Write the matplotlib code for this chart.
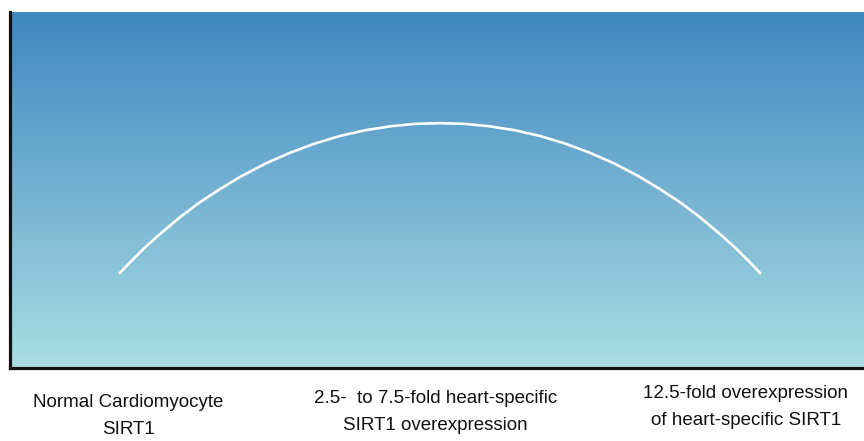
import numpy as np
import matplotlib
matplotlib.use("Agg")
import matplotlib.pyplot as plt
from matplotlib.colors import LinearSegmentedColormap

# Data (x: category scale 0..2, y: relative response 0..1)
left_x = [0.000, 0.034, 0.081, 0.128, 0.190, 0.252, 0.315, 0.377, 0.455, 0.533,
          0.611, 0.688, 0.766, 0.844, 0.922]
left_y = [0.265, 0.297, 0.339, 0.377, 0.424, 0.466, 0.503, 0.537, 0.574, 0.605,
          0.631, 0.652, 0.668, 0.679, 0.686]
peak_x, peak_y = 1.0, 0.688
right_x = [1.078, 1.156, 1.234, 1.312, 1.389, 1.467, 1.545, 1.623, 1.685, 1.748,
           1.810, 1.872, 1.919, 1.966, 2.000]
right_y = [0.686, 0.679, 0.668, 0.652, 0.631, 0.605, 0.574, 0.537, 0.503, 0.466,
           0.424, 0.377, 0.339, 0.297, 0.265]
categories = ["Normal Cardiomyocyte\nSIRT1",
              "2.5-  to 7.5-fold heart-specific\nSIRT1 overexpression",
              "12.5-fold overexpression\nof heart-specific SIRT1"]
label_x = [0.03, 0.985, 1.953]
label_top = [-0.072, -0.06, -0.047]

curve_x = left_x + [peak_x] + right_x
curve_y = left_y + [peak_y] + right_y

fig = plt.figure(figsize=(8.64, 4.41), dpi=100)
ax = fig.add_axes([9.5/864, (441-368.3)/441, (864-9.5)/864, (368.3-12)/441])

xmin, xmax = -0.341, 2.321
ax.set_xlim(xmin, xmax)
ax.set_ylim(0, 1)

cmap = LinearSegmentedColormap.from_list("bg", ["#aadde3", "#3e87c1"])
grad = np.linspace(0, 1, 256).reshape(-1, 1)
ax.imshow(grad, cmap=cmap, aspect="auto", extent=[xmin, xmax, 0, 1],
          origin="lower", zorder=0)

ax.plot(curve_x, curve_y, color="white", lw=1.9, solid_capstyle="butt",
        solid_joinstyle="round", zorder=2)

for s in ["top", "right"]:
    ax.spines[s].set_visible(False)
for s in ["left", "bottom"]:
    ax.spines[s].set_linewidth(2.3)
    ax.spines[s].set_color("#111111")
ax.set_xticks([])
ax.set_yticks([])

for lx, lt, txt in zip(label_x, label_top, categories):
    ax.text(lx, lt, txt, transform=ax.get_xaxis_transform(), ha="center", va="top",
            fontsize=13.5, linespacing=1.8, color="#111111",
            family=["Liberation Sans", "DejaVu Sans"])

fig.savefig("out.png", dpi=100)
